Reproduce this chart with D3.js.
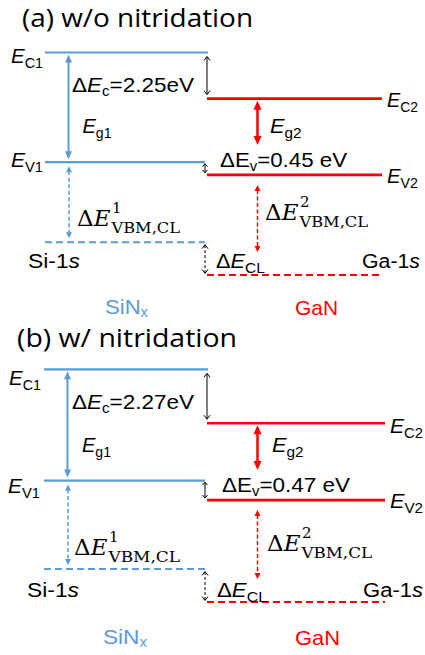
<!DOCTYPE html>
<html><head><meta charset="utf-8">
<script src="https://cdn.jsdelivr.net/npm/d3@7/dist/d3.min.js"></script>
<style>html,body{margin:0;padding:0;background:#fff}svg{display:block}</style>
</head><body>
<script>
// ---------- data ----------
const panelTitles = ["(a) w/o nitridation", "(b) w/ nitridation"];
const materials = ["SiN", "GaN"];
const levelNames = ["EC1", "EC2", "EV1", "EV2", "Si-1s", "Ga-1s"];
// schematic depth of each level below E_C1 (a.u.)
const levelsA = [0, 2.25, 5.35, 5.97, 9.25, 10.85];
const levelsB = [0, 2.63, 5.43, 6.38, 9.74, 11.35];
const deltaEc = ["2.25", "2.27"];
const deltaEv = ["0.45", "0.47"];

// ---------- layout / style ----------
const W = 425, H = 655;
const BLUE = "#5B9BD5", RED = "#FF0000", BLACK = "#000";
const SANS = "'Liberation Sans', Arial, sans-serif";
const SERIF = "'DejaVu Serif', 'Liberation Serif', serif";
const TITLE = "'Open Sans', sans-serif";

// label anchors: [x, baseline, width]
const layouts = [
  { top: 52.5, xr: [45, 207, 382], titleX: 22, titleY: 27, titleW: 231,
    lab: { EC1:[11,63,32], EV1:[11,166.5,32], dEc:[72,92,122], Eg1:[82.5,133,29], Eg2:[270,133,31.5], EC2:[387,107,31],
           dEv:[220,167,127], EV2:[387,183,31], dE1:[77,226,103], dE2:[265,220,103], Si:[28,268,52], dCL:[216,268,49],
           Ga:[362,268,58], SiN:[105,314,43], GaN:[295,315,43] } },
  { top: 369.3, xr: [44, 207, 385], titleX: 17, titleY: 347, titleW: 220,
    lab: { EC1:[9,385,32], EV1:[8,493,32], dEc:[72,409,122], Eg1:[82,452,29], Eg2:[272,452,31.5], EC2:[390,433,33],
           dEv:[222,492,128], EV2:[390,508,33], dE1:[74,555,106], dE2:[267,551,105], Si:[27,597,52], dCL:[217,597,50],
           Ga:[363,597,60], SiN:[103,644,44], GaN:[295,645,45] } }
];

const svg = d3.select("body").append("svg").attr("width", W).attr("height", H);

function richText(g, a, parts, size, family, fill) {
  const t = g.append("text").attr("x", a[0]).attr("y", a[1])
    .attr("font-family", family).attr("font-size", size).attr("fill", fill || BLACK);
  if (a[2]) t.attr("textLength", a[2]).attr("lengthAdjust", "spacingAndGlyphs");
  let shift = 0;
  parts.forEach(p => {
    const s = t.append("tspan").text(p.t);
    if (p.italic) s.attr("font-style", "italic");
    if (p.size) s.attr("font-size", p.size);
    const d = (p.dy || 0) - shift;
    if (d) s.attr("dy", d);
    shift = p.dy || 0;
  });
  return t;
}

function arrow(g, x, y1, y2, o) {
  const hl = o.hl, hw = o.hw;
  if (o.open) {
    g.append("line").attr("x1", x).attr("x2", x).attr("y1", y1 + 0.5).attr("y2", y2 - 0.5)
      .attr("stroke", o.color).attr("stroke-width", o.w).attr("stroke-dasharray", o.dash || null);
    g.append("path").attr("d", `M${x - hw},${y1 + hl}L${x},${y1}L${x + hw},${y1 + hl}`)
      .attr("fill", "none").attr("stroke", o.color).attr("stroke-width", o.w);
    g.append("path").attr("d", `M${x - hw},${y2 - hl}L${x},${y2}L${x + hw},${y2 - hl}`)
      .attr("fill", "none").attr("stroke", o.color).attr("stroke-width", o.w);
  } else {
    g.append("line").attr("x1", x).attr("x2", x).attr("y1", y1 + hl - 1).attr("y2", y2 - hl + 1)
      .attr("stroke", o.color).attr("stroke-width", o.w).attr("stroke-dasharray", o.dash || null);
    g.append("path").attr("d", `M${x - hw},${y1 + hl}L${x},${y1}L${x + hw},${y1 + hl}Z`).attr("fill", o.color);
    g.append("path").attr("d", `M${x - hw},${y2 - hl}L${x},${y2}L${x + hw},${y2 - hl}Z`).attr("fill", o.color);
  }
}

[levelsA, levelsB].forEach((levels, i) => {
  const L = layouts[i];
  const g = svg.append("g");
  const y = d3.scaleLinear().domain([0, 12]).range([L.top, L.top + 12 * 20.5]);
  const x = d3.scaleLinear().domain([0, 1, 2]).range(L.xr);
  const lv = {};
  levelNames.forEach((n, k) => lv[n] = y(levels[k]));

  // title
  g.append("text").attr("x", L.titleX).attr("y", L.titleY)
    .attr("font-family", TITLE).attr("font-size", 25.5).attr("fill", BLACK)
    .attr("textLength", L.titleW).attr("lengthAdjust", "spacingAndGlyphs")
    .text(panelTitles[i]);

  // levels
  const segs = [
    { n: "EC1", x1: x(0), x2: x(1) + 1, c: BLUE, w: 2.2 },
    { n: "EV1", x1: x(0), x2: x(1) - 2, c: BLUE, w: 2.2 },
    { n: "Si-1s", x1: x(0), x2: x(1) - 2, c: BLUE, w: 2, dash: "7,4" },
    { n: "EC2", x1: x(1), x2: x(2), c: RED, w: 2.6 },
    { n: "EV2", x1: x(1), x2: x(2), c: RED, w: 2.6 },
    { n: "Ga-1s", x1: x(1), x2: x(2), c: RED, w: 2, dash: "7,4" }
  ];
  g.selectAll("line.lvl").data(segs).join("line").attr("class", "lvl")
    .attr("x1", d => d.x1).attr("x2", d => d.x2)
    .attr("y1", d => lv[d.n]).attr("y2", d => lv[d.n])
    .attr("stroke", d => d.c).attr("stroke-width", d => d.w)
    .attr("stroke-dasharray", d => d.dash || null);

  // arrows
  const xa = x(0) + 23.5, xb = 257.5, xj = x(1);
  arrow(g, xa, lv.EC1 + 2, lv.EV1 - 3, { color: BLUE, w: 2, hl: 8, hw: 3.5 });
  arrow(g, xb, lv.EC2 + 2, lv.EV2 - 30, { color: RED, w: 2.5, hl: 9, hw: 4 });
  arrow(g, xj, lv.EC1 + 4, lv.EC2 - 4, { color: BLACK, w: 1, hl: 4, hw: 3, open: true });
  arrow(g, xj - 2, lv.EV1 + 1.5, lv.EV2 - 2, { color: BLACK, w: 1, hl: 3, hw: 2.5, open: true });
  arrow(g, xj - 2, lv["Si-1s"] + 2.5, lv["Ga-1s"] - 1.5, { color: BLACK, w: 1, hl: 4, hw: 3, open: true, dash: "3,2" });
  arrow(g, xa + 0.5, lv.EV1 + 4, lv["Si-1s"] - 4, { color: BLUE, w: 1.5, hl: 6, hw: 3, dash: "4,2.5" });
  arrow(g, xb, lv.EV2 + 10, lv["Ga-1s"] - 23, { color: RED, w: 1.5, hl: 6, hw: 3, dash: "4,2.5" });

  // labels
  const lb = L.lab;
  const sub = (t) => ({ t, size: 14, dy: 5 });
  richText(g, lb.EC1, [{ t: "E", italic: true }, sub("C1")], 20, SANS);
  richText(g, lb.EV1, [{ t: "E", italic: true }, sub("V1")], 20, SANS);
  richText(g, lb.EC2, [{ t: "E", italic: true }, sub("C2")], 20, SANS);
  richText(g, lb.EV2, [{ t: "E", italic: true }, sub("V2")], 20, SANS);
  richText(g, lb.Eg1, [{ t: "E", italic: true }, sub("g1")], 20, SANS);
  richText(g, lb.Eg2, [{ t: "E", italic: true }, sub("g2")], 20, SANS);
  richText(g, lb.dEc, [{ t: "Δ" }, { t: "E", italic: true }, { t: "c", size: 14, dy: 4 }, { t: "=" + deltaEc[i] + "eV", dy: 0 }], 21, SANS);
  richText(g, lb.dEv, [{ t: "ΔE" }, { t: "v", size: 14, dy: 4 }, { t: "=" + deltaEv[i] + " eV", dy: 0 }], 21, SANS);
  richText(g, lb.Si, [{ t: "Si-1" }, { t: "s", italic: true }], 20, SANS);
  richText(g, lb.Ga, [{ t: "Ga-1" }, { t: "s", italic: true }], 20, SANS);
  richText(g, lb.dCL, [{ t: "Δ" }, { t: "E", italic: true }, { t: "CL", size: 15, dy: 5 }], 21, SANS);

  // ΔE^n_{VBM,CL} in math serif: one text element, stacked super/subscript
  [[lb.dE1, "1"], [lb.dE2, "2"]].forEach(([p, n]) => {
    const t = g.append("text").attr("x", p[0]).attr("y", p[1])
      .attr("font-family", SERIF).attr("font-size", 23).attr("fill", BLACK);
    t.append("tspan").text("Δ");
    t.append("tspan").attr("font-style", "italic").text("E");
    const w = t.node().getComputedTextLength();
    t.append("tspan").attr("x", p[0] + w + 1.5).attr("y", p[1] - 13).attr("font-size", 15).text(n);
    t.append("tspan").attr("x", p[0] + w + 1).attr("y", p[1] + 7).attr("font-size", 15)
      .attr("textLength", p[2] - w - 1).attr("lengthAdjust", "spacingAndGlyphs").text("VBM,CL");
  });

  // material labels
  richText(g, lb.SiN, [{ t: materials[0] }, { t: "x", size: 14, dy: 3 }], 21, SANS, BLUE);
  richText(g, lb.GaN, [{ t: materials[1] }], 21, SANS, RED);
});
</script>
</body></html>
